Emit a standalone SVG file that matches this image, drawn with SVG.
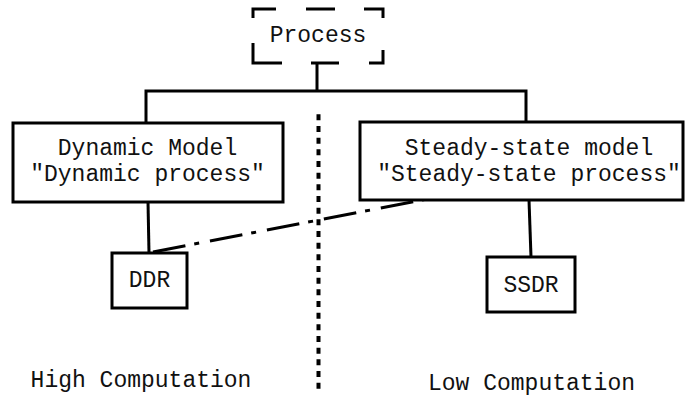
<svg xmlns="http://www.w3.org/2000/svg" width="685" height="399" viewBox="0 0 685 399">
<style>
.box{fill:#fff;stroke:#000;stroke-width:3}
.t{font-family:"Liberation Mono","Courier New",monospace;font-size:23px;fill:#111;text-anchor:middle}
.c{fill:none;stroke:#000;stroke-width:3}
</style>
<rect width="685" height="399" fill="#fff"/>
<g id="connectors">
<path class="c" d="M317,63 V91 M146,123 V91 H526 V122"/>
<path class="c" d="M148,202 L149,253"/>
<path class="c" d="M529,200 L531,257"/>
<path class="c" d="M153,252 L438,197" stroke-width="3.5" stroke-dasharray="33 9 5 11"/>
</g>
<g id="divider">
<path d="M318.5,114.3 V389" fill="none" stroke="#000" stroke-width="4" stroke-dasharray="6 5.67"/>
</g>
<g id="process">
<rect x="253" y="9" width="130" height="54" fill="#fff"/>
<path class="c" d="M253,18 V9 H276 M306,9 H335 M364,9 H383 V18 M383,50 V63 H369 M339,63 H311 M282,63 H253 V43"/>
<text class="t" x="318" y="42">Process</text>
</g>
<g id="dynamic">
<rect class="box" x="13" y="123" width="270" height="79"/>
<text class="t"><tspan x="147.5" y="155">Dynamic Model</tspan><tspan x="147.5" y="181">"Dynamic process"</tspan></text>
</g>
<g id="steady">
<rect class="box" x="360" y="122" width="323" height="78"/>
<text class="t"><tspan x="529" y="155">Steady-state model</tspan><tspan x="529" y="181">"Steady-state process"</tspan></text>
</g>
<g id="ddr">
<rect class="box" x="112" y="253" width="75" height="55"/>
<text class="t" x="149.5" y="287">DDR</text>
</g>
<g id="ssdr">
<rect class="box" x="487" y="257" width="88" height="55"/>
<text class="t" x="531" y="292">SSDR</text>
</g>
<g id="labels">
<text class="t" x="141" y="387">High Computation</text>
<text class="t" x="531.5" y="390">Low Computation</text>
</g>
</svg>
